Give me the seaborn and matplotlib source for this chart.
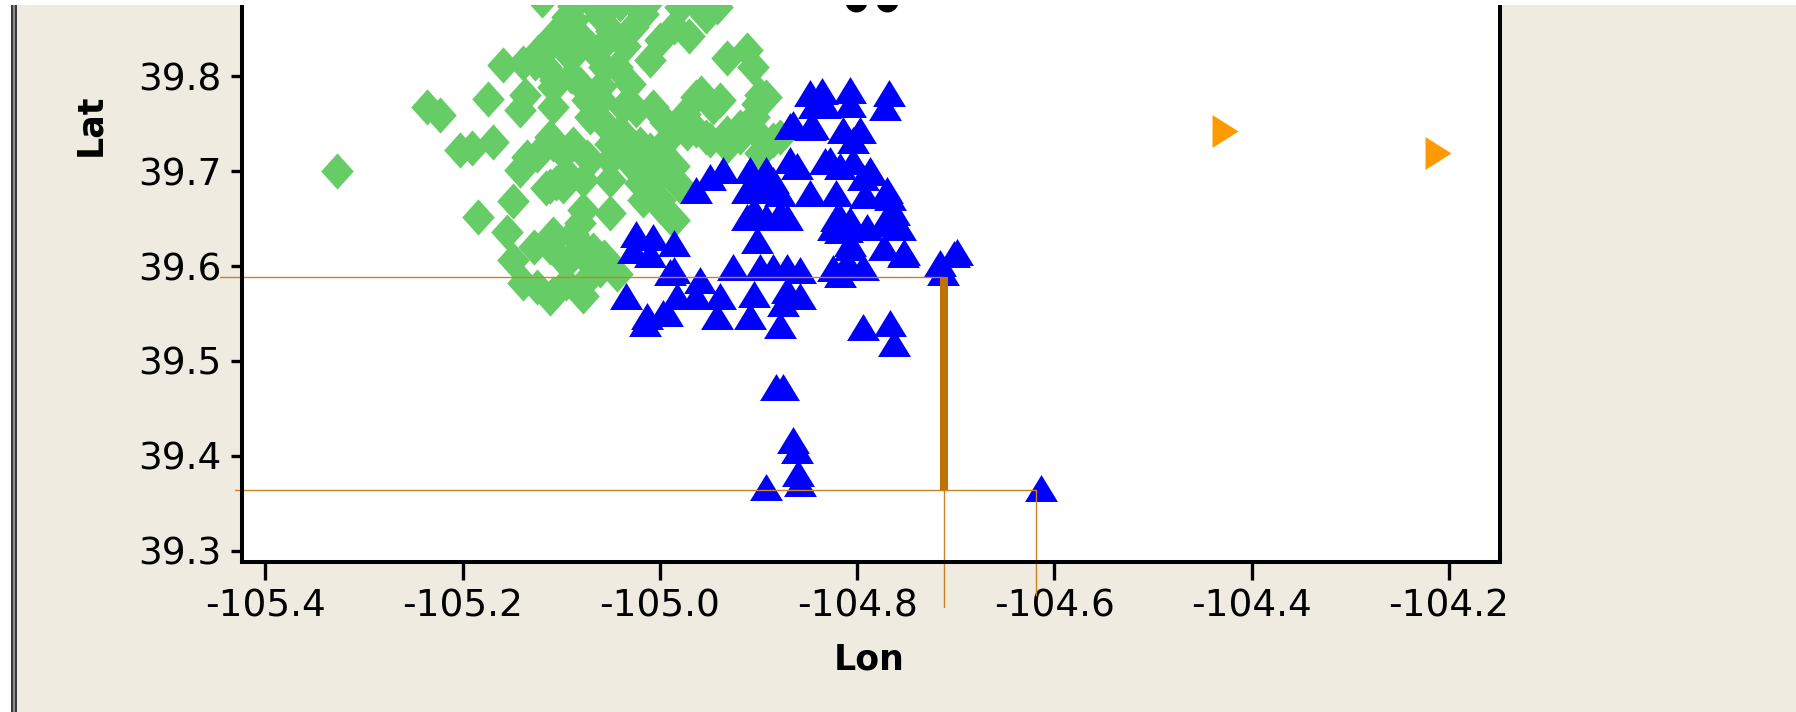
import matplotlib
matplotlib.use("Agg")
import matplotlib.pyplot as plt
import pandas as pd
import seaborn as sns
from matplotlib.patches import Rectangle

# ---- station coordinates (longitude, latitude) per group ----
green_lon = [
    -105.327, -105.236, -105.223, -105.174, -105.159, -105.139, -105.127, -105.137, -105.142,
    -105.108, -105.108, -105.108, -105.203, -105.191, -105.169, -105.135, -105.108, -105.184,
    -105.149, -105.155, -105.142, -105.125, -105.115, -105.105, -105.149, -105.128, -105.108,
    -105.139, -105.125, -105.111, -105.124, -105.112, -105.100, -105.094, -105.088, -105.106,
    -104.932, -104.912, -104.906, -104.963, -104.946, -104.902, -104.905, -104.953, -104.942,
    -105.007, -105.037, -104.973, -104.953, -104.919, -104.895, -104.932, -105.081, -105.074,
    -105.115, -105.088, -105.081, -105.061, -105.054, -105.044, -105.057, -105.027, -105.017,
    -105.000, -105.010, -104.986, -104.980, -105.030, -105.024, -105.071, -105.054, -105.111,
    -105.088, -105.074, -105.051, -105.034, -105.010, -104.993, -105.098, -105.071, -105.051,
    -105.051, -105.111, -105.098, -105.078, -105.020, -105.020, -105.007, -104.990, -104.980,
    -105.000, -104.990, -105.051, -105.078, -105.081, -105.108, -105.111, -105.084, -105.068,
    -105.057, -105.095, -105.044, -105.071, -105.108, -105.078, -105.017, -104.898, -104.892,
    -104.958, -104.939, -104.963, -104.949, -104.932, -104.919, -104.885, -104.878, -104.898,
    -105.000, -104.986, -105.020, -105.027, -105.007, -105.000, -104.993, -104.986, -105.095,
    -105.088, -105.074, -105.095, -105.061, -105.120, -105.070, -105.040, -105.010, -104.965,
    -105.090, -105.070, -105.050, -105.035, -104.970, -105.060, -105.090, -104.975, -104.995,
    -105.040, -105.060,
]
green_lat = [
    39.700, 39.768, 39.759, 39.776, 39.812, 39.814, 39.814, 39.780, 39.764,
    39.842, 39.789, 39.768, 39.722, 39.724, 39.731, 39.715, 39.729, 39.652,
    39.668, 39.636, 39.701, 39.717, 39.682, 39.687, 39.606, 39.620, 39.627,
    39.582, 39.578, 39.566, 39.826, 39.832, 39.844, 39.862, 39.874, 39.796,
    39.819, 39.828, 39.810, 39.778, 39.768, 39.771, 39.757, 39.863, 39.873,
    39.768, 39.768, 39.740, 39.736, 39.736, 39.733, 39.726, 39.792, 39.775,
    39.810, 39.859, 39.842, 39.863, 39.838, 39.810, 39.810, 39.852, 39.866,
    39.838, 39.817, 39.852, 39.873, 39.792, 39.764, 39.757, 39.747, 39.736,
    39.729, 39.715, 39.729, 39.715, 39.722, 39.733, 39.719, 39.712, 39.712,
    39.691, 39.684, 39.684, 39.691, 39.708, 39.687, 39.694, 39.701, 39.684,
    39.663, 39.652, 39.656, 39.659, 39.645, 39.634, 39.620, 39.627, 39.617,
    39.610, 39.603, 39.592, 39.589, 39.571, 39.568, 39.670, 39.780, 39.778,
    39.782, 39.775, 39.743, 39.733, 39.740, 39.747, 39.733, 39.736, 39.719,
    39.722, 39.705, 39.729, 39.705, 39.687, 39.670, 39.656, 39.648, 39.698,
    39.634, 39.606, 39.582, 39.596, 39.880, 39.878, 39.876, 39.880, 39.878,
    39.820, 39.830, 39.848, 39.832, 39.842, 39.790, 39.800, 39.760, 39.752,
    39.742, 39.775,
]

blue_lon = [
    -104.848, -104.836, -104.844, -104.833, -104.807, -104.807, -104.768, -104.772,
    -104.865, -104.848, -104.814, -104.797, -104.804, -104.868, -104.861, -104.827,
    -104.817, -104.787, -104.794, -104.892, -104.885, -104.878, -104.848, -104.821,
    -104.770, -104.767, -104.878, -104.817, -104.770, -104.898, -104.824, -104.807,
    -104.790, -104.767, -104.756, -104.807, -104.773, -104.753, -104.807, -104.794,
    -104.824, -104.716, -104.702, -104.713, -104.794, -104.767, -104.763, -104.858,
    -104.858, -104.892, -104.871, -104.912, -104.902, -105.024, -105.007, -104.986,
    -105.027, -105.010, -104.990, -104.926, -104.898, -104.885, -104.871, -104.817,
    -104.807, -104.810, -104.817, -104.959, -105.034, -104.983, -104.997, -105.015,
    -104.939, -104.942, -104.905, -104.909, -104.871, -104.875, -104.878, -104.949,
    -104.936, -104.963, -104.909, -104.898, -104.912, -104.885, -104.905, -104.986,
    -104.963, -105.013, -104.993, -104.882, -104.875, -104.865, -104.861, -104.892,
    -104.860, -104.858, -104.613, -104.868, -104.845, -104.833, -104.804, -104.786,
    -104.792, -104.769, -104.763, -104.769, -104.752, -104.821, -104.810, -104.699,
]
blue_lat = [
    39.782, 39.784, 39.770, 39.770, 39.785, 39.771, 39.782, 39.768,
    39.750, 39.747, 39.743, 39.743, 39.733, 39.712, 39.705, 39.712,
    39.705, 39.701, 39.694, 39.701, 39.691, 39.677, 39.677, 39.677,
    39.680, 39.673, 39.656, 39.652, 39.652, 39.684, 39.641, 39.648,
    39.641, 39.648, 39.641, 39.620, 39.620, 39.613, 39.599, 39.599,
    39.598, 39.603, 39.613, 39.594, 39.536, 39.540, 39.519, 39.596,
    39.568, 39.652, 39.652, 39.652, 39.627, 39.634, 39.631, 39.624,
    39.617, 39.613, 39.594, 39.599, 39.599, 39.599, 39.599, 39.638,
    39.624, 39.603, 39.592, 39.585, 39.568, 39.568, 39.550, 39.540,
    39.568, 39.547, 39.571, 39.547, 39.575, 39.561, 39.538, 39.694,
    39.701, 39.680, 39.701, 39.687, 39.680, 39.680, 39.659, 39.596,
    39.568, 39.547, 39.550, 39.473, 39.473, 39.417, 39.406, 39.367,
    39.382, 39.371, 39.366, 39.748, 39.748, 39.711, 39.711, 39.699,
    39.675, 39.675, 39.657, 39.645, 39.615, 39.651, 39.639, 39.615,
]

orange_lon = [-104.427, -104.211]
orange_lat = [39.742, 39.719]

black_lon = [-104.801, -104.770]
black_lat = [39.879, 39.879]

# measurement guides: selected point and probe point
guide_upper_lat = 39.588
guide_lower_lat = 39.364
bar_lon = -104.712
probe_lon = -104.619

x_ticks = [-105.4, -105.2, -105.0, -104.8, -104.6, -104.4, -104.2]
y_ticks = [39.3, 39.4, 39.5, 39.6, 39.7, 39.8]

# ---- marker shapes ----
diamond = [(0, 1), (0.9, 0), (0, -1), (-0.9, 0), (0, 1)]
tri_up = [(0, 0.82), (1, -0.82), (-1, -0.82), (0, 0.82)]
tri_right = [(-0.79, 1), (0.79, 0), (-0.79, -1), (-0.79, 1)]

sns.set_style("white")
plt.rcParams["font.family"] = ["DejaVu Sans"]
plt.rcParams["axes.unicode_minus"] = False

W, H, DPI = 1796, 712, 100
BG = "#EFEBE0"
fig = plt.figure(figsize=(W / DPI, H / DPI), dpi=DPI, facecolor=BG)
ax = fig.add_axes([242 / W, 150 / H, 1258 / W, 582 / H])
ax.set_facecolor("white")

groups = [
    (green_lon, green_lat, diamond, "#66CC66", 680),
    (blue_lon, blue_lat, tri_up, "#0000FF", 560),
    (orange_lon, orange_lat, tri_right, "#FF9900", 560),
    (black_lon, black_lat, "o", "#000000", 250),
]
for lon, lat, mk, col, size in groups:
    df = pd.DataFrame({"Lon": lon, "Lat": lat})
    sns.scatterplot(data=df, x="Lon", y="Lat", marker=mk, color=col, s=size,
                    linewidth=0, ax=ax, legend=False, zorder=2)

thin = "#C88424"
thick = "#BF7304"
ax.plot([-105.446, bar_lon], [guide_upper_lat, guide_upper_lat], color=thin, lw=1.0,
        clip_on=False, zorder=2.4)
ax.plot([-105.431, probe_lon], [guide_lower_lat, guide_lower_lat], color=thin, lw=1.0,
        clip_on=False, zorder=2.4)
ax.plot([bar_lon, bar_lon], [guide_lower_lat, guide_upper_lat], color=thick, lw=5.8,
        solid_capstyle="butt", zorder=2.45)
ax.plot([bar_lon, bar_lon], [39.241, guide_lower_lat], color=thin, lw=1.0,
        clip_on=False, zorder=2.4)
ax.plot([probe_lon, probe_lon], [39.2533, guide_lower_lat], color=thin, lw=1.0,
        clip_on=False, zorder=2.4)

ax.set_xlim(-105.4238, -104.148)
ax.set_ylim(39.2881, 39.9014)
ax.set_xticks(x_ticks)
ax.set_yticks(y_ticks)
ax.set_xticklabels([f"{v:.1f}" for v in x_ticks])
ax.set_yticklabels([f"{v:.1f}" for v in y_ticks])

for side in ["left", "bottom", "right"]:
    ax.spines[side].set_visible(True)
    ax.spines[side].set_linewidth(2.9)
    ax.spines[side].set_color("black")
ax.spines["top"].set_visible(False)

ax.tick_params(axis="x", direction="out", length=13, width=2.4, pad=6,
               labelsize=27, colors="black", bottom=True)
ax.tick_params(axis="y", direction="out", length=7.6, width=2.4, pad=7,
               labelsize=27, colors="black", left=True)

ax.set_xlabel("Lon", fontsize=25, fontweight="heavy", color="black")
ax.set_ylabel("Lat", fontsize=25, fontweight="heavy", color="black")
ax.xaxis.set_label_coords(0.4984, -0.168)
ax.xaxis.label.set_va("center")
ax.yaxis.set_label_coords(-0.1208, 0.7509)
ax.yaxis.label.set_va("center")
ax.yaxis.label.set_ha("center")

# window frame: white strip along the top, dark border on the left
fig.add_artist(Rectangle((0, 1 - 5 / H), 1, 5 / H, transform=fig.transFigure,
                         facecolor="white", edgecolor="none", zorder=10))
fig.add_artist(Rectangle((0, 0), 11 / W, 1 - 5 / H, transform=fig.transFigure,
                         facecolor="white", edgecolor="none", zorder=10))
fig.add_artist(Rectangle((11 / W, 0), 6 / W, 1 - 5 / H, transform=fig.transFigure,
                         facecolor="#3A3A3A", edgecolor="none", zorder=10))
fig.add_artist(Rectangle((13 / W, 0), 2 / W, 1 - 5 / H, transform=fig.transFigure,
                         facecolor="#8C8C8C", edgecolor="none", zorder=11))

fig.savefig("out.png", dpi=DPI, facecolor=BG)
